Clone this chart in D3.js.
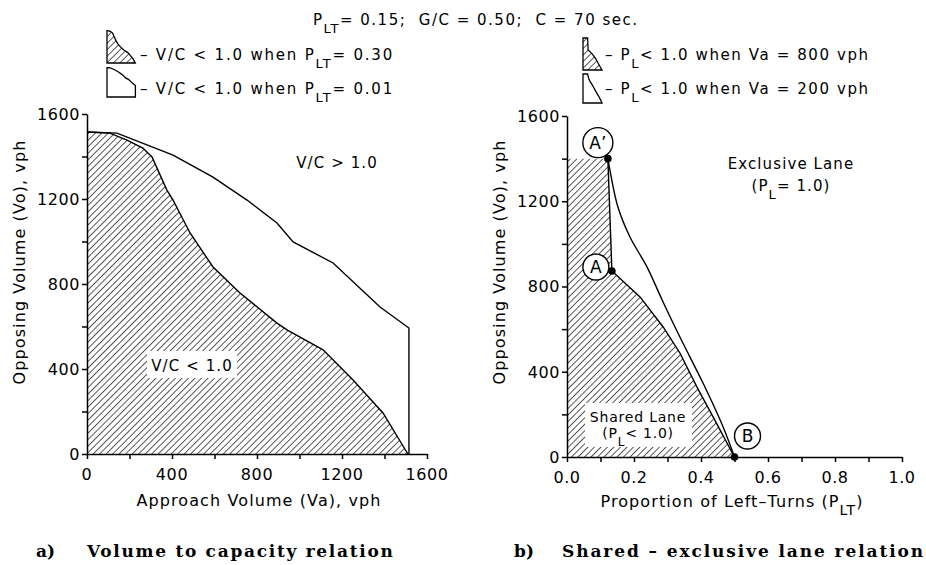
<!DOCTYPE html>
<html><head><meta charset="utf-8">
<script src="https://cdn.jsdelivr.net/npm/d3@7"></script>
<style>body{margin:0;background:#fff} svg{display:block} text{font-family:"DejaVu Sans",sans-serif;fill:#000;white-space:pre}</style>
</head><body><svg id="c" width="926" height="565"></svg>
<script>
// ---------- data ----------
const vcTickLabels = [0, 400, 800, 1200, 1600];
const vcTickMarks = [0, 200, 400, 600, 800, 1000, 1200, 1400, 1600];
const plTickLabelsX = [0, 0.2, 0.4, 0.6, 0.8, 1.0];
const plTickMarksX = [0, 0.1, 0.2, 0.3, 0.4, 0.5, 0.6, 0.7, 0.8, 0.9, 1.0];
const plTickLabelsY = [0, 400, 800, 1200, 1600];
const plTickMarksY = [0, 200, 400, 600, 800, 1000, 1200, 1400, 1600];

// a) V/C < 1.0 boundary, P_LT = 0.30 (hatched)
const vcHigh_Va = [0, 108, 188, 263, 306, 376, 405, 485, 593, 720, 894, 941, 1111, 1252, 1393, 1510];
const vcHigh_Vo = [1515, 1510, 1477, 1440, 1398, 1242, 1195, 1040, 880, 758, 616, 584, 490, 348, 193, 0];
// a) V/C < 1.0 boundary, P_LT = 0.01 (outline)
const vcLow_Va = [0, 141, 405, 593, 753, 894, 970, 1158, 1379, 1515, 1515];
const vcLow_Vo = [1515, 1510, 1407, 1303, 1195, 1087, 998, 899, 692, 593, 0];

// b) shared lane region, Va = 800 vph (hatched)
const plShared_PLT = [0, 0.122, 0.134, 0.218, 0.287, 0.337, 0.388, 0.436, 0.5];
const plShared_Vo = [1400, 1400, 873, 751, 610, 488, 328, 188, 0];
// b) boundary, Va = 200 vph
const plExcl_PLT = [0.122, 0.128, 0.152, 0.188, 0.239, 0.284, 0.337, 0.406, 0.466, 0.5];
const plExcl_Vo = [1400, 1347, 1173, 1032, 891, 737, 563, 347, 141, 0];

const pointNames = ["A\u2019", "A", "B"];
const point_PLT = [0.122, 0.134, 0.5];
const point_Vo = [1400, 873, 0];

// ---------- drawing ----------
const svg = d3.select("#c");
const defs = svg.append("defs");
const pat = defs.append("pattern").attr("id", "hatch").attr("patternUnits", "userSpaceOnUse")
  .attr("width", 4.6).attr("height", 4.6).attr("patternTransform", "rotate(45)");
pat.append("line").attr("x1", 0).attr("y1", 0).attr("x2", 0).attr("y2", 4.6)
  .attr("stroke", "#000").attr("stroke-width", 1.3);

const zip = (xs, ys) => xs.map((x, i) => [x, ys[i]]);
const LS = "1.1px";

function rich(parent, x, y, parts, o = {}) {
  const t = parent.append("text").attr("x", x).attr("y", y)
    .attr("font-size", o.size || 16).style("letter-spacing", o.ls || LS)
    .attr("text-anchor", o.anchor || "start");
  if (o.transform) t.attr("transform", o.transform);
  let down = false;
  parts.forEach(p => {
    const s = t.append("tspan").text(p.t);
    if (p.sub) { s.attr("dy", 8).attr("font-size", (o.size || 16) - 2); down = true; }
    else if (down) { s.attr("dy", -8); down = false; }
  });
  return t;
}

// title
rich(svg, 313, 25, [{t: "P"}, {t: "LT", sub: true}, {t: "= 0.15;  G/C = 0.50;  C = 70 sec."}], {size: 15, ls: "1.5px"});

// ---------- chart a ----------
const xA = d3.scaleLinear([0, 1600], [87, 427]);
const yA = d3.scaleLinear([0, 1600], [454, 114]);
const gA = svg.append("g");

const highPts = zip(vcHigh_Va, vcHigh_Vo);
const lowPts = zip(vcLow_Va, vcLow_Vo);
const lineA = d3.line().x(d => xA(d[0])).y(d => yA(d[1]));

gA.append("path").attr("d", lineA([[0, 0], ...highPts]) + "Z").attr("fill", "url(#hatch)");
gA.append("path").attr("d", lineA(highPts)).attr("fill", "none").attr("stroke", "#000").attr("stroke-width", 1.4);
gA.append("path").attr("d", lineA(lowPts)).attr("fill", "none").attr("stroke", "#000").attr("stroke-width", 1.4);

function axes(g, x, y, marksX, labelsX, marksY, labelsY, fmtX, fmtY) {
  const ax = g.append("g").attr("transform", `translate(0,${y.range()[0]})`)
    .call(d3.axisBottom(x).tickValues(marksX).tickSize(5).tickSizeOuter(0).tickFormat(""));
  ax.selectAll("path,line").attr("stroke", "#000").attr("stroke-width", 1.5);
  const ay = g.append("g").attr("transform", `translate(${x.range()[0]},0)`)
    .call(d3.axisLeft(y).tickValues(marksY).tickSize(5).tickSizeOuter(0).tickFormat(""));
  ay.selectAll("path,line").attr("stroke", "#000").attr("stroke-width", 1.5);
  labelsX.forEach(v => g.append("text").attr("x", x(v)).attr("y", y.range()[0] + 26)
    .attr("text-anchor", "middle").attr("font-size", 16).style("letter-spacing", "0.6px").text(fmtX(v)));
  labelsY.forEach(v => g.append("text").attr("x", x.range()[0] - 7).attr("y", y(v)).attr("dy", "0.36em")
    .attr("text-anchor", "end").attr("font-size", 16).style("letter-spacing", "0.6px").text(fmtY(v)));
}
axes(gA, xA, yA, vcTickMarks, vcTickLabels, vcTickMarks, vcTickLabels, d3.format("d"), d3.format("d"));

rich(gA, 259, 506, [{t: "Approach Volume (Va), vph"}], {anchor: "middle"});
rich(gA, 0, 0, [{t: "Opposing Volume (Vo), vph"}], {anchor: "middle", transform: "translate(25,262) rotate(-90)"});
rich(gA, 337, 168, [{t: "V/C > 1.0"}], {anchor: "middle", size: 15});
gA.append("rect").attr("x", 147).attr("y", 351).attr("width", 90).attr("height", 27).attr("fill", "#fff");
rich(gA, 192, 371, [{t: "V/C < 1.0"}], {anchor: "middle", size: 15});

// legend a (icons drawn from the same data at small scale)
const ixA = d3.scaleLinear([0, 1600], [107, 137]);
const iyA1 = d3.scaleLinear([0, 1600], [63, 29]);
const iyA2 = d3.scaleLinear([0, 1600], [97, 66]);
const li1 = d3.line().x(d => ixA(d[0])).y(d => iyA1(d[1]));
const li2 = d3.line().x(d => ixA(d[0])).y(d => iyA2(d[1]));
gA.append("path").attr("d", li1([[0, 0], ...highPts]) + "Z").attr("fill", "url(#hatch)").attr("stroke", "#000").attr("stroke-width", 1.3);
gA.append("path").attr("d", li2([[0, 0], ...lowPts]) + "Z").attr("fill", "none").attr("stroke", "#000").attr("stroke-width", 1.3);
rich(gA, 140, 60, [{t: "\u2013 V/C < 1.0 when P"}, {t: "LT", sub: true}, {t: "= 0.30"}], {size: 15, ls: "1.8px"});
rich(gA, 140, 94, [{t: "\u2013 V/C < 1.0 when P"}, {t: "LT", sub: true}, {t: "= 0.01"}], {size: 15, ls: "1.8px"});

svg.append("text").attr("x", 36).attr("y", 557).attr("font-size", 17)
  .attr("font-weight", "bold").style("font-family", "DejaVu Serif").text("a)");
svg.append("text").attr("x", 87).attr("y", 557).attr("font-size", 17).attr("font-weight", "bold")
  .style("font-family", "DejaVu Serif").style("letter-spacing", "1.7px").text("Volume to capacity relation");

// ---------- chart b ----------
const xB = d3.scaleLinear([0, 1], [567, 902]);
const yB = d3.scaleLinear([0, 1600], [457, 116]);
const gB = svg.append("g");
const lineB = d3.line().x(d => xB(d[0])).y(d => yB(d[1]));
const curveB = d3.line().x(d => xB(d[0])).y(d => yB(d[1])).curve(d3.curveCatmullRom);
const sharedPts = zip(plShared_PLT, plShared_Vo);
const exclPts = zip(plExcl_PLT, plExcl_Vo);

gB.append("path").attr("d", lineB([[0, 0], ...sharedPts]) + "Z").attr("fill", "url(#hatch)");
gB.append("path").attr("d", lineB(sharedPts.slice(1))).attr("fill", "none").attr("stroke", "#000").attr("stroke-width", 1.4);
gB.append("path").attr("d", curveB(exclPts)).attr("fill", "none").attr("stroke", "#000").attr("stroke-width", 1.4);

axes(gB, xB, yB, plTickMarksX, plTickLabelsX, plTickMarksY, plTickLabelsY, d3.format(".1f"), d3.format("d"));

rich(gB, 732, 507, [{t: "Proportion of Left\u2013Turns (P"}, {t: "LT", sub: true}, {t: ")"}], {anchor: "middle"});
rich(gB, 0, 0, [{t: "Opposing Volume (Vo), vph"}], {anchor: "middle", transform: "translate(505,262) rotate(-90)"});

rich(gB, 791, 169, [{t: "Exclusive Lane"}], {anchor: "middle", size: 15});
rich(gB, 791, 191, [{t: "(P"}, {t: "L", sub: true}, {t: "= 1.0)"}], {anchor: "middle", size: 15});

gB.append("rect").attr("x", 585).attr("y", 403).attr("width", 107).attr("height", 44).attr("fill", "#fff");
rich(gB, 638, 422, [{t: "Shared Lane"}], {anchor: "middle", size: 14, ls: "0.8px"});
rich(gB, 638, 438, [{t: "(P"}, {t: "L", sub: true}, {t: "< 1.0)"}], {anchor: "middle", size: 14, ls: "0.8px"});

// points with circled labels
const labelOffsets = [[-10, -16, 15], [-16, -4, 13], [13, -21, 13]];
pointNames.forEach((n, i) => {
  const px = xB(point_PLT[i]), py = yB(point_Vo[i]);
  const [dx, dy, r] = labelOffsets[i];
  gB.append("circle").attr("cx", px + dx).attr("cy", py + dy).attr("r", r)
    .attr("fill", "#fff").attr("stroke", "#000").attr("stroke-width", 1.4);
  gB.append("text").attr("x", px + dx).attr("y", py + dy).attr("dy", "0.36em")
    .attr("text-anchor", "middle").attr("font-size", 17).text(n);
  gB.append("circle").attr("cx", px).attr("cy", py).attr("r", 3.8).attr("fill", "#000");
});

// legend b
const ixB = d3.scaleLinear([0, 0.5], [583, 602]);
const iyB1 = d3.scaleLinear([0, 1400], [70, 38]);
const iyB2 = d3.scaleLinear([0, 1400], [103, 74]);
const lb1 = d3.line().x(d => ixB(d[0])).y(d => iyB1(d[1]));
const lb2 = d3.line().x(d => ixB(d[0])).y(d => iyB2(d[1]));
gB.append("path").attr("d", lb1([[0, 0], ...sharedPts]) + "Z").attr("fill", "url(#hatch)").attr("stroke", "#000").attr("stroke-width", 1.3);
gB.append("path").attr("d", lb2([[0, 0], [0, 1400], ...exclPts]) + "Z").attr("fill", "none").attr("stroke", "#000").attr("stroke-width", 1.3);
rich(gB, 605, 60, [{t: "\u2013 P"}, {t: "L", sub: true}, {t: "< 1.0 when Va = 800 vph"}], {size: 15, ls: "1.6px"});
rich(gB, 605, 94, [{t: "\u2013 P"}, {t: "L", sub: true}, {t: "< 1.0 when Va = 200 vph"}], {size: 15, ls: "1.6px"});

svg.append("text").attr("x", 514).attr("y", 557).attr("font-size", 17).attr("font-weight", "bold")
  .style("font-family", "DejaVu Serif").text("b)");
svg.append("text").attr("x", 562).attr("y", 557).attr("font-size", 17).attr("font-weight", "bold")
  .style("font-family", "DejaVu Serif").style("letter-spacing", "1.9px").text("Shared \u2013 exclusive lane relation");
</script></body></html>
